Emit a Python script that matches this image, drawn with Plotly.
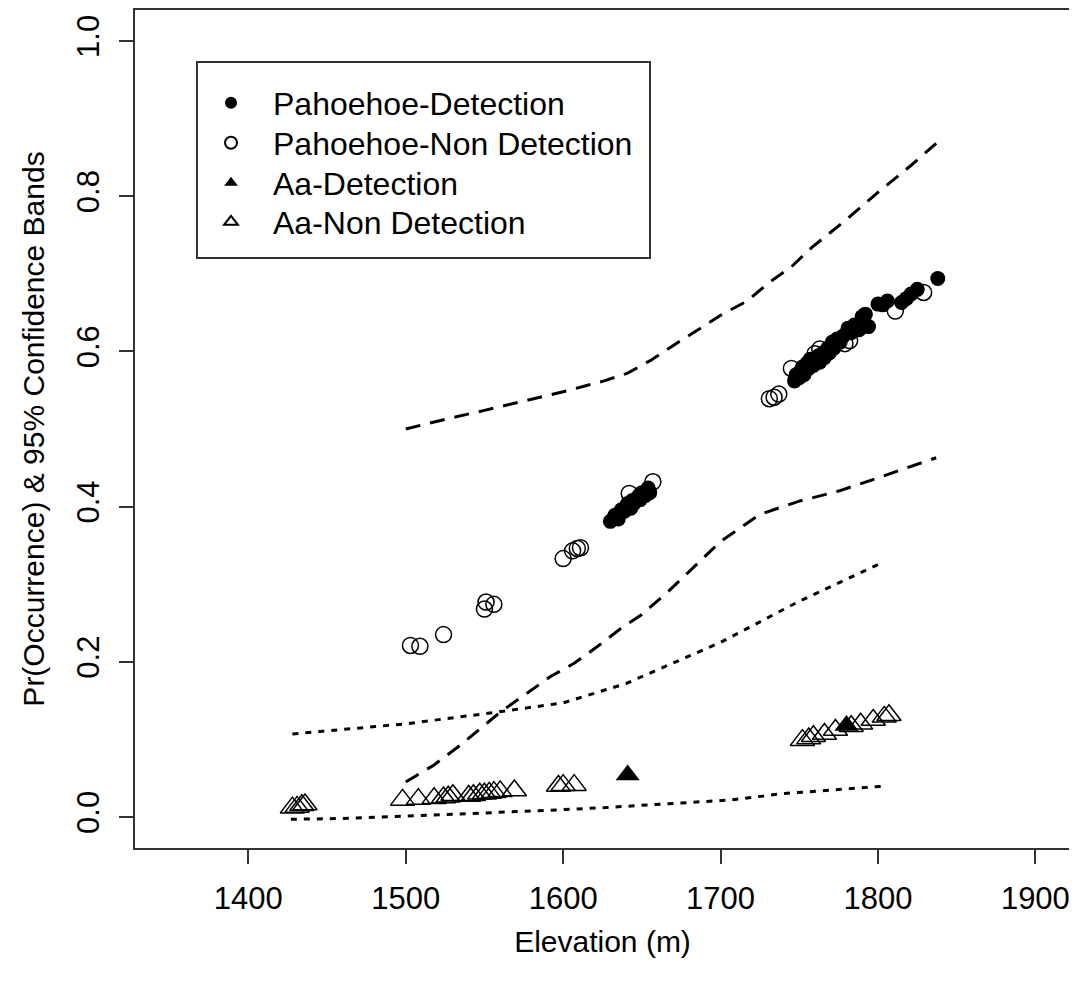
import plotly.graph_objects as go

# ---- data ----
pd_x = [1630, 1632, 1633, 1635, 1636, 1637, 1639, 1640, 1641, 1643, 1644, 1645, 1647, 1648, 1649, 1650, 1652, 1653, 1654, 1655,
        1747, 1748, 1750, 1751, 1752, 1753, 1755, 1756, 1757, 1759, 1760, 1762, 1763, 1765, 1766, 1768, 1769, 1771, 1772, 1774,
        1776, 1778, 1781, 1783, 1785, 1788, 1790, 1792, 1794, 1800, 1803, 1806, 1815, 1818, 1821, 1825, 1838]
pd_y = [0.381, 0.385, 0.389, 0.384, 0.392, 0.396, 0.394, 0.400, 0.404, 0.398, 0.408, 0.404, 0.410, 0.414, 0.409, 0.418, 0.414, 0.420, 0.424, 0.418,
        0.562, 0.570, 0.566, 0.575, 0.580, 0.570, 0.585, 0.578, 0.590, 0.582, 0.588, 0.594, 0.586, 0.598, 0.592, 0.604, 0.598, 0.612, 0.604, 0.616,
        0.612, 0.620, 0.630, 0.624, 0.634, 0.628, 0.645, 0.648, 0.632, 0.661, 0.660, 0.665, 0.663, 0.668, 0.674, 0.680, 0.694]

pn_x = [1503, 1509, 1524, 1550, 1551, 1556, 1600, 1606, 1609, 1611, 1642, 1657,
        1731, 1734, 1737, 1745, 1760, 1763, 1779, 1782, 1811, 1829]
pn_y = [0.221, 0.220, 0.235, 0.268, 0.277, 0.274, 0.333, 0.343, 0.346, 0.347, 0.417, 0.432,
        0.539, 0.541, 0.545, 0.578, 0.597, 0.603, 0.610, 0.614, 0.652, 0.676]

ad_x = [1641, 1780]
ad_y = [0.054, 0.118]

an_x = [1428, 1431, 1434, 1436, 1498, 1508, 1518, 1524, 1527, 1530, 1540, 1543, 1547, 1550, 1553, 1556, 1560, 1569,
        1597, 1600, 1607, 1752, 1756, 1759, 1766, 1773, 1783, 1789, 1797, 1804, 1807]
an_y = [0.012, 0.013, 0.015, 0.016, 0.022, 0.023, 0.024, 0.025, 0.026, 0.028, 0.027, 0.028, 0.030, 0.030, 0.031, 0.032, 0.033, 0.034,
        0.040, 0.041, 0.041, 0.099, 0.101, 0.104, 0.107, 0.112, 0.117, 0.120, 0.125, 0.129, 0.131]

# confidence bands
ph_up_x = [1500, 1524, 1550, 1575, 1600, 1626, 1641, 1656, 1671, 1702, 1717, 1731, 1745, 1758, 1780, 1800, 1820, 1837]
ph_up_y = [0.500, 0.512, 0.524, 0.536, 0.548, 0.562, 0.572, 0.589, 0.609, 0.649, 0.665, 0.689, 0.709, 0.734, 0.770, 0.805, 0.838, 0.868]
ph_lo_x = [1500, 1518, 1535, 1560, 1592, 1607, 1622, 1636, 1650, 1667, 1700, 1725, 1750, 1775, 1800, 1837]
ph_lo_y = [0.045, 0.067, 0.093, 0.135, 0.181, 0.198, 0.220, 0.242, 0.261, 0.291, 0.355, 0.390, 0.407, 0.420, 0.437, 0.463]
aa_up_x = [1428, 1500, 1550, 1600, 1640, 1669, 1700, 1750, 1803]
aa_up_y = [0.107, 0.120, 0.133, 0.147, 0.172, 0.198, 0.225, 0.278, 0.328]
aa_lo_x = [1427, 1460, 1499, 1541, 1584, 1626, 1667, 1707, 1739, 1771, 1806]
aa_lo_y = [-0.003, -0.002, 0.001, 0.004, 0.008, 0.012, 0.017, 0.022, 0.030, 0.035, 0.040]

x_ticks = [1400, 1500, 1600, 1700, 1800, 1900]
y_ticks = [0.0, 0.2, 0.4, 0.6, 0.8, 1.0]
y_ticklabels = ["0.0", "0.2", "0.4", "0.6", "0.8", "1.0"]

FONT = "Liberation Sans, Arial, sans-serif"

fig = go.Figure()

for bx, by, dash in [(ph_up_x, ph_up_y, "15px,10px"), (ph_lo_x, ph_lo_y, "15px,10px"),
                     (aa_up_x, aa_up_y, "6px,7px"), (aa_lo_x, aa_lo_y, "6px,7px")]:
    fig.add_trace(go.Scatter(x=bx, y=by, mode="lines", showlegend=False, hoverinfo="skip",
                             line=dict(color="black", width=3, dash=dash)))

fig.add_trace(go.Scatter(x=pd_x, y=pd_y, mode="markers", name="Pahoehoe-Detection", legend="legend",
                         marker=dict(symbol="circle", size=15, color="black")))
fig.add_trace(go.Scatter(x=pn_x, y=pn_y, mode="markers", name="Pahoehoe-Non Detection", legend="legend2",
                         marker=dict(symbol="circle-open", size=16, color="black", line=dict(width=1.5))))
fig.add_trace(go.Scatter(x=ad_x, y=ad_y, mode="markers", name="Aa-Detection", legend="legend3",
                         marker=dict(symbol="triangle-up", size=21, color="black")))
fig.add_trace(go.Scatter(x=an_x, y=an_y, mode="markers", name="Aa-Non Detection", legend="legend4",
                         marker=dict(symbol="triangle-up-open", size=21, color="black", line=dict(width=1.5))))

axis_common = dict(showline=True, mirror=True, linecolor="#333333", linewidth=2,
                   ticks="outside", ticklen=14, tickwidth=1.5, tickcolor="#333333",
                   showgrid=False, zeroline=False, automargin=False,
                   tickfont=dict(family=FONT, size=31, color="black"))

# the page body adds an 8px offset; target positions are screen pixels
OFF = 8
W, H = 1077 - OFF, 985 - OFF
PL, PR, PT, PB = 135 - OFF, 1070 - OFF, 10 - OFF, 848 - OFF
def px_x(p):
    return (p - OFF - PL) / (PR - PL)
def px_y(p):
    return (PB - (p - OFF)) / (PB - PT)

legend_rows = [103, 143, 183, 222]
leg_common = dict(x=px_x(189), xanchor="left", yanchor="middle", bgcolor="rgba(0,0,0,0)",
                  borderwidth=0, itemsizing="constant", itemwidth=74,
                  font=dict(family=FONT, size=32, color="black"))

fig.update_layout(
    width=W, height=H,
    margin=dict(l=PL, r=W - PR, t=PT, b=H - PB, autoexpand=False),
    paper_bgcolor="white", plot_bgcolor="white",
    xaxis=dict(range=[1328, 1922], tickvals=x_ticks,
               title=dict(text="Elevation (m)", font=dict(family=FONT, size=30, color="black"), standoff=16),
               ticklabelstandoff=8, **axis_common),
    yaxis=dict(range=[-0.04, 1.04], tickvals=y_ticks, ticktext=y_ticklabels, tickangle=-90,
               title=dict(text="Pr(Occurrence) & 95% Confidence Bands", font=dict(family=FONT, size=30, color="black"), standoff=17),
               ticklabelstandoff=8, **axis_common),
    legend=dict(y=px_y(legend_rows[0]), **leg_common),
    legend2=dict(y=px_y(legend_rows[1]), **leg_common),
    legend3=dict(y=px_y(legend_rows[2]), **leg_common),
    legend4=dict(y=px_y(legend_rows[3]), **leg_common),
    shapes=[dict(type="rect", xref="paper", yref="paper", x0=px_x(197), x1=px_x(650), y0=px_y(258), y1=px_y(62),
                 line=dict(color="#333333", width=2), fillcolor="rgba(0,0,0,0)", layer="below")],
)

fig.write_html("out.html")
